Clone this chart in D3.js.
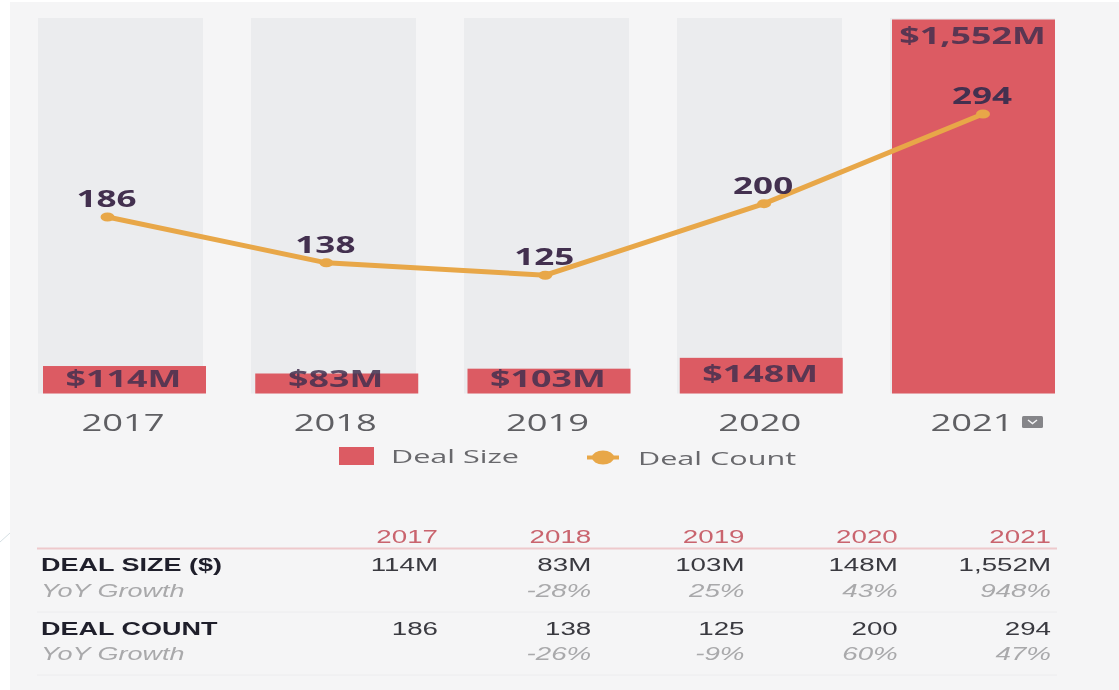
<!DOCTYPE html>
<html>
<head>
<meta charset="utf-8">
<script src="https://cdn.jsdelivr.net/npm/d3@7"></script>
<style>
  html, body { margin: 0; padding: 0; background: #fff; overflow: hidden; }
  svg { display: block; filter: blur(0.45px); }
</style>
</head>
<body>
<script>
const years = ['2017', '2018', '2019', '2020', '2021'];
const dealSize = [114, 83, 103, 148, 1552];
const dealCount = [186, 138, 125, 200, 294];
const sizeLabels = ['$114M', '$83M', '$103M', '$148M', '$1,552M'];
const sizeRow = ['114M', '83M', '103M', '148M', '1,552M'];
const sizeGrowth = ['', '-28%', '25%', '43%', '948%'];
const countRow = ['186', '138', '125', '200', '294'];
const countGrowth = ['', '-26%', '-9%', '60%', '47%'];

const width = 1119;
const height = 690;
const baseline = 393.5;

const red = '#dc5b63';
const gold = '#e8a748';
const labelDark = '#43304f';
const chartFont = '"Open Sans", sans-serif';
const tableFont = '"Liberation Sans", sans-serif';

const svg = d3.select('body').append('svg')
    .attr('width', width)
    .attr('height', height);

svg.append('rect')
    .attr('x', 10)
    .attr('y', 2)
    .attr('width', width - 10)
    .attr('height', height - 2)
    .attr('fill', '#f5f5f6');

// the stray bit of slide decoration on the left edge
svg.append('line')
    .attr('x1', 0).attr('y1', 542)
    .attr('x2', 10).attr('y2', 533)
    .attr('stroke', '#d5dfe3')
    .attr('stroke-width', 1);

// the source is a stretched screenshot, so text gets stretched too
const stretched = (sel, x, y, sx) => sel
    .attr('transform', `translate(${x},${y}) scale(${sx},1)`);

const xTrack = d3.scaleBand()
    .domain(years)
    .range([38, 38 + 213 * 5 - 48])
    .paddingInner(48 / 213)
    .paddingOuter(0);

const xBar = d3.scaleBand()
    .domain(years)
    .range([43, 43 + 212.25 * 5 - 49.25])
    .paddingInner(49.25 / 212.25)
    .paddingOuter(0);

const xLine = d3.scalePoint()
    .domain(years)
    .range([107.5, 983]);

const ySize = d3.scaleLinear()
    .domain([0, d3.max(dealSize)])
    .range([baseline, 19.5]);

const yCount = d3.scaleLinear()
    .domain([0, d3.max(dealCount)])
    .range([baseline + 1, 114]);

svg.append('g').selectAll('rect')
    .data(years)
    .join('rect')
    .attr('x', d => xTrack(d))
    .attr('y', 18)
    .attr('width', xTrack.bandwidth())
    .attr('height', baseline - 18)
    .attr('fill', '#ebecee');

svg.append('g').selectAll('rect')
    .data(years)
    .join('rect')
    .attr('x', d => xBar(d))
    .attr('y', (d, i) => ySize(dealSize[i]))
    .attr('width', xBar.bandwidth())
    .attr('height', (d, i) => baseline - ySize(dealSize[i]))
    .attr('fill', red);

svg.append('g').selectAll('text')
    .data(years)
    .join('text')
    .attr('font-family', chartFont)
    .attr('font-size', 23)
    .attr('font-weight', 700)
    .attr('fill', labelDark)
    .attr('fill-opacity', 0.85)
    .attr('text-anchor', 'middle')
    .text((d, i) => sizeLabels[i])
    .each(function(d, i) {
        const y = Math.min(ySize(dealSize[i]) + 24, 387);
        stretched(d3.select(this), xBar(d) + xBar.bandwidth() / 2 - 1, y, 1.56);
    });

const yearAxis = svg.append('g')
    .attr('transform', `translate(-1.5,${baseline + 37})`)
    .call(d3.axisBottom(xBar).tickSize(0).tickPadding(0));
yearAxis.select('.domain').remove();
yearAxis.selectAll('text')
    .attr('font-family', chartFont)
    .attr('font-size', 23)
    .attr('fill', '#5f5f63')
    .attr('y', 0)
    .attr('dy', 0)
    .attr('transform', 'scale(1.58,1)');

const line = d3.line()
    .x((d, i) => xLine(years[i]))
    .y(d => yCount(d));

svg.append('path')
    .datum(dealCount)
    .attr('d', line)
    .attr('fill', 'none')
    .attr('stroke', gold)
    .attr('stroke-width', 5);

svg.append('g').selectAll('ellipse')
    .data(dealCount)
    .join('ellipse')
    .attr('cx', (d, i) => xLine(years[i]))
    .attr('cy', d => yCount(d))
    .attr('rx', 7)
    .attr('ry', 4.5)
    .attr('fill', gold);

svg.append('g').selectAll('text')
    .data(dealCount)
    .join('text')
    .attr('font-family', chartFont)
    .attr('font-size', 24)
    .attr('font-weight', 700)
    .attr('fill', labelDark)
    .attr('text-anchor', 'middle')
    .text(d => d)
    .each(function(d, i) {
        stretched(d3.select(this), xLine(years[i]) - 1, yCount(d) - 10, 1.46);
    });

// envelope icon next to the last year
const icon = svg.append('g').attr('transform', 'translate(1022,416)');
icon.append('rect')
    .attr('width', 21)
    .attr('height', 12)
    .attr('rx', 1.5)
    .attr('fill', '#858589');
icon.append('path')
    .attr('d', 'M6,4L10.5,7.5L15,4')
    .attr('fill', 'none')
    .attr('stroke', '#f5f5f6')
    .attr('stroke-width', 1.5);

// legend
const legendText = (text, x, y) => svg.append('text')
    .attr('font-family', chartFont)
    .attr('font-size', 18)
    .attr('fill', '#68686c')
    .text(text)
    .call(stretched, x, y, 1.7);

svg.append('rect')
    .attr('x', 339)
    .attr('y', 447)
    .attr('width', 35)
    .attr('height', 18)
    .attr('fill', red);
legendText('Deal Size', 391, 463);

svg.append('line')
    .attr('x1', 587).attr('y1', 457.5)
    .attr('x2', 619).attr('y2', 457.5)
    .attr('stroke', gold)
    .attr('stroke-width', 4);
svg.append('ellipse')
    .attr('cx', 603)
    .attr('cy', 457.5)
    .attr('rx', 11)
    .attr('ry', 7)
    .attr('fill', gold);
legendText('Deal Count', 638, 465);

// table under the chart
const xCol = d3.scalePoint()
    .domain(years)
    .range([438, 1051]);

const tableRows = [
    { values: years, y: 543, fill: '#c9646e', weight: 400, style: 'normal' },
    { values: sizeRow, y: 571, fill: '#3a3a40', weight: 400, style: 'normal' },
    { values: sizeGrowth, y: 597, fill: '#a9a9ab', weight: 400, style: 'italic' },
    { values: countRow, y: 635, fill: '#3a3a40', weight: 400, style: 'normal' },
    { values: countGrowth, y: 660, fill: '#a9a9ab', weight: 400, style: 'italic' }
];

const rowLabels = [
    { text: 'DEAL SIZE ($)', y: 571, fill: '#1f1f2b', weight: 700, style: 'normal' },
    { text: 'YoY Growth', y: 597, fill: '#a9a9ab', weight: 400, style: 'italic' },
    { text: 'DEAL COUNT', y: 635, fill: '#1f1f2b', weight: 700, style: 'normal' },
    { text: 'YoY Growth', y: 660, fill: '#a9a9ab', weight: 400, style: 'italic' }
];

const table = svg.append('g')
    .attr('font-family', tableFont)
    .attr('font-size', 18);

table.selectAll('g.row')
    .data(tableRows)
    .join('g')
    .attr('class', 'row')
    .each(function(row) {
        d3.select(this).selectAll('text')
            .data(row.values)
            .join('text')
            .attr('text-anchor', 'end')
            .attr('fill', row.fill)
            .attr('font-weight', row.weight)
            .attr('font-style', row.style)
            .text(d => d)
            .each(function(d, i) {
                stretched(d3.select(this), xCol(years[i]), row.y, 1.54);
            });
    });

table.selectAll('text.label')
    .data(rowLabels)
    .join('text')
    .attr('class', 'label')
    .attr('fill', d => d.fill)
    .attr('font-weight', d => d.weight)
    .attr('font-style', d => d.style)
    .text(d => d.text)
    .each(function(d) {
        stretched(d3.select(this), 41, d.y, 1.5);
    });

svg.append('line')
    .attr('x1', 37).attr('y1', 548.5)
    .attr('x2', 1057).attr('y2', 548.5)
    .attr('stroke', '#eec9cc')
    .attr('stroke-width', 2);

svg.append('g').selectAll('line')
    .data([612, 675])
    .join('line')
    .attr('x1', 37)
    .attr('x2', 1057)
    .attr('y1', d => d)
    .attr('y2', d => d)
    .attr('stroke', '#ececee')
    .attr('stroke-width', 1);
</script>
</body>
</html>
